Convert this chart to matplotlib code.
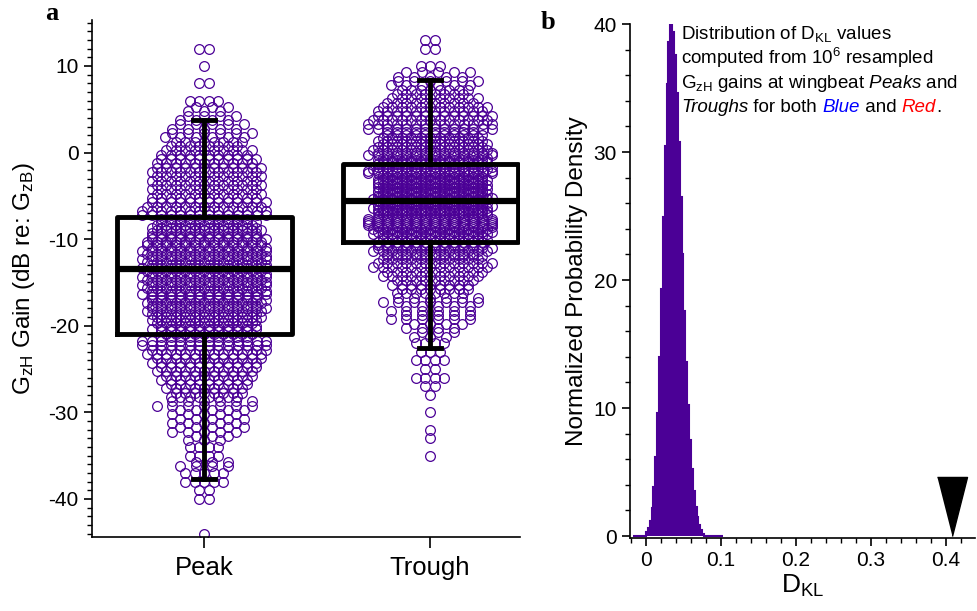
import matplotlib
matplotlib.use('Agg')
import matplotlib.pyplot as plt
import numpy as np

plt.rcParams['font.family'] = ['Liberation Sans', 'DejaVu Sans']
plt.rcParams['mathtext.fontset'] = 'custom'
plt.rcParams['mathtext.rm'] = 'Liberation Sans'
plt.rcParams['mathtext.it'] = 'Liberation Sans:italic'
plt.rcParams['axes.unicode_minus'] = False

purple = '#4B0096'

# ---- panel a: swarm counts per 1 dB level
groups = ['Peak', 'Trough']
peak_levels = list(range(12, -45, -1))
peak_counts = [2, 0, 1, 0, 2, 0, 4, 6, 8, 10, 12, 16, 20, 22, 24, 24, 24, 24,
               26, 28, 32, 36, 38, 40, 40, 40, 40, 40, 40, 38, 38, 36, 34, 30,
               28, 26, 24, 22, 20, 18, 16, 13, 10, 10, 10, 6, 4, 4, 7, 5, 5,
               2, 2, 0, 0, 0, 1]
trough_levels = list(range(13, -36, -1))
trough_counts = [2, 2, 0, 3, 10, 12, 16, 20, 24, 26, 28, 32, 36, 40, 48, 54,
                 58, 60, 62, 62, 60, 56, 52, 46, 38, 32, 26, 22, 18, 16, 13,
                 11, 11, 8, 6, 4, 3, 4, 2, 4, 2, 1, 0, 1, 0, 1, 1, 0, 1]

# box plot statistics (dB)
box_q1 = [-20.9, -10.3]
box_med = [-13.5, -5.65]
box_q3 = [-7.4, -1.3]
whisk_lo = [-37.7, -22.6]
whisk_hi = [3.7, 8.4]

# ---- panel b: normalized density of D_KL, bins of 0.0025 starting at 0
dkl_bin = 0.0025
dkl_density = [0.3, 0.6, 1.2, 2.2, 3.8, 6.2, 9.6, 14, 19.3, 24.9, 30.5, 35.3,
               38.6, 40, 39.4, 37.6, 34.6, 30.8, 26.5, 22, 17.6, 13.6, 10.2,
               7.5, 5.2, 3.5, 2.3, 1.5, 0.9, 0.5, 0.2]
zero_bins_left = 7
zero_bins_right = 10
observed_dkl = 0.408

fig = plt.figure(figsize=(9.77, 6.11), dpi=100)
ax1 = fig.add_axes([0.0942, 0.1211, 0.4381, 0.8461])
ax2 = fig.add_axes([0.6448, 0.1195, 0.3532, 0.8412])


def swarm(levels, counts, center, half_w=0.275, step=0.042):
    per_row = int(2 * half_w / step) + 1
    xs, ys = [], []
    for lv, n in zip(levels, counts):
        if n == 0:
            continue
        if n < per_row:
            nrows = 2 if n >= 6 else 1
        else:
            nrows = int(np.ceil(n / per_row))
        for j in range(nrows):
            m = n // nrows + (1 if j < n % nrows else 0)
            if m >= per_row:
                sp = 2 * half_w / (m - 1)
            elif nrows > 1 and n < per_row:
                sp = min(0.07, 2 * half_w / m)
            else:
                sp = step
            off = (np.arange(m) - (m - 1) / 2) * sp
            if m < per_row and j % 2 == 1:
                off = off + sp / 2
            y = lv + (j - (nrows - 1) / 2) / nrows
            xs.extend(center + off)
            ys.extend([y] * m)
    return xs, ys


for i, (lv, ct) in enumerate([(peak_levels, peak_counts), (trough_levels, trough_counts)]):
    x, y = swarm(lv, ct, i)
    ax1.plot(x, y, 'o', ms=7, mfc='none', mec=purple, mew=0.9, zorder=2)

stats = []
for i in range(2):
    stats.append(dict(med=box_med[i], q1=box_q1[i], q3=box_q3[i],
                      whislo=whisk_lo[i], whishi=whisk_hi[i], fliers=[]))
lp = dict(color='black', linewidth=3.5)
ax1.bxp(stats, positions=[0, 1], widths=0.775, capwidths=0.1, showfliers=False,
        boxprops=lp, whiskerprops=lp, capprops=lp,
        medianprops=dict(color='black', linewidth=4.5), zorder=3)

ax1.set_xlim(-0.496, 1.398)
ax1.set_ylim(-44.4, 15.3)
ax1.set_xticks([0, 1])
ax1.set_xticklabels(groups, fontsize=18.5)
ax1.set_yticks(np.arange(-40, 11, 10))
ax1.set_yticks(np.arange(-44, 16, 1), minor=True)
ax1.tick_params(axis='y', labelsize=15, width=1.2, length=6)
ax1.tick_params(axis='y', which='minor', width=1.0, length=3.5)
ax1.tick_params(axis='x', width=1.2, length=8, pad=6)
for s in ['top', 'right']:
    ax1.spines[s].set_visible(False)
for s in ['left', 'bottom']:
    ax1.spines[s].set_linewidth(1.2)
ax1.set_ylabel(r'G$_{\mathrm{zH}}$ Gain (dB re: G$_{\mathrm{zB}}$)', fontsize=17.5, labelpad=8)

# panel b
vals = [0.0] * zero_bins_left + dkl_density + [0.0] * zero_bins_right
edges = (np.arange(len(vals) + 1) - zero_bins_left) * dkl_bin
ax2.stairs(vals, edges, fill=True, color=purple, zorder=2)
ax2.stairs(vals, edges, color=purple, linewidth=1.5, zorder=2)

tri = [(-15, 59), (15, 59), (0, 0)]
ax2.plot([observed_dkl], [0], marker=tri, ms=85, color='black', clip_on=False, zorder=4)

ax2.set_xlim(-0.0213, 0.4387)
ax2.set_ylim(-0.15, 40)
ax2.set_xticks([0, 0.1, 0.2, 0.3, 0.4])
ax2.set_xticklabels(['0', '0.1', '0.2', '0.3', '0.4'])
ax2.set_xticks(np.arange(-0.02, 0.44, 0.02), minor=True)
ax2.set_yticks([0, 10, 20, 30, 40])
ax2.set_yticks(np.arange(0, 41, 2), minor=True)
ax2.tick_params(labelsize=15, width=1.2, length=6)
ax2.tick_params(which='minor', width=1.0, length=3.5)
for s in ['top', 'right']:
    ax2.spines[s].set_visible(False)
for s in ['left', 'bottom']:
    ax2.spines[s].set_linewidth(1.2)
ax2.set_ylabel('Normalized Probability Density', fontsize=17.5, labelpad=4)
ax2.set_xlabel(r'D$_{\mathrm{KL}}$', fontsize=19, labelpad=2)

fs = 13.5
tx, ty = 0.148, 0.97
ax2.text(tx, ty, r'Distribution of D$_{\mathrm{KL}}$ values', transform=ax2.transAxes,
         fontsize=fs, va='baseline')
ax2.text(tx, ty - 0.047, r'computed from 10$^{6}$ resampled', transform=ax2.transAxes,
         fontsize=fs, va='baseline')
ax2.text(tx, ty - 0.094, r'G$_{\mathrm{zH}}$ gains at wingbeat $\mathit{Peaks}$ and',
         transform=ax2.transAxes, fontsize=fs, va='baseline')
t = ax2.text(tx, ty - 0.141, 'Troughs', style='italic', transform=ax2.transAxes,
             fontsize=fs, va='baseline')
for piece, st, col in [(' for both ', 'normal', 'black'), ('Blue', 'italic', 'blue'),
                       (' and ', 'normal', 'black'), ('Red', 'italic', 'red'),
                       ('.', 'normal', 'black')]:
    t = ax2.annotate(piece, xy=(1, 0), xycoords=t, va='bottom', ha='left',
                     fontsize=fs, style=st, color=col)

fig.text(0.046, 0.968, 'a', fontsize=19, fontweight='bold', family='Liberation Serif')
fig.text(0.553, 0.952, 'b', fontsize=19, fontweight='bold', family='Liberation Serif')

fig.savefig('out.png', dpi=100)
